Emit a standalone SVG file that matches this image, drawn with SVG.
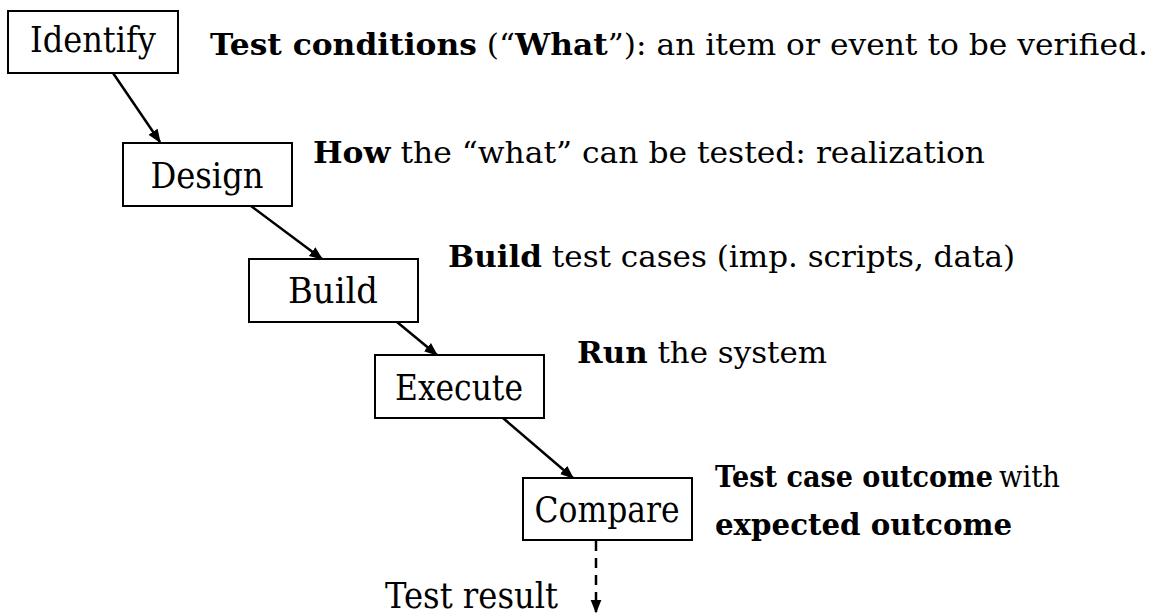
<svg xmlns="http://www.w3.org/2000/svg" width="1155" height="614" viewBox="0 0 1155 614">
<style>
.box{fill:#fff;stroke:#000;stroke-width:2}
text{font-family:"DejaVu Serif","Liberation Serif",serif;fill:#000}
.lbl{font-size:35px;text-anchor:middle}
.desc{font-size:30px}
.b{font-weight:bold}
.conn{stroke:#000;stroke-width:2.5;fill:none}
.dash{stroke-dasharray:10,7}
</style>
<defs>
<marker id="ah" viewBox="0 0 10 10" refX="9" refY="5" markerWidth="5.5" markerHeight="5.5" markerUnits="strokeWidth" orient="auto">
<path d="M0,1 L10,5 L0,9 z" fill="#000"/>
</marker>
</defs>
<rect width="1155" height="614" fill="#fff"/>
<g id="connectors">
<line class="conn" x1="113" y1="73" x2="160" y2="142" marker-end="url(#ah)"/>
<line class="conn" x1="251" y1="206" x2="322" y2="259" marker-end="url(#ah)"/>
<line class="conn" x1="397" y1="322" x2="437" y2="355" marker-end="url(#ah)"/>
<line class="conn" x1="503" y1="418" x2="573" y2="478" marker-end="url(#ah)"/>
<line class="conn dash" x1="596" y1="541" x2="596" y2="612" marker-end="url(#ah)"/>
</g>
<g id="identify">
<rect class="box" x="8" y="11" width="170" height="62"/>
<text class="lbl" x="93" y="52" textLength="126" lengthAdjust="spacingAndGlyphs">Identify</text>
</g>
<g id="design">
<rect class="box" x="123" y="143" width="169" height="63"/>
<text class="lbl" x="207" y="188" textLength="113" lengthAdjust="spacingAndGlyphs">Design</text>
</g>
<g id="build">
<rect class="box" x="249" y="259" width="169" height="63"/>
<text class="lbl" x="333" y="303" textLength="90" lengthAdjust="spacingAndGlyphs">Build</text>
</g>
<g id="execute">
<rect class="box" x="375" y="355" width="169" height="63"/>
<text class="lbl" x="459" y="400" textLength="128" lengthAdjust="spacingAndGlyphs">Execute</text>
</g>
<g id="compare">
<rect class="box" x="523" y="478" width="169" height="62"/>
<text class="lbl" x="607" y="522" textLength="145" lengthAdjust="spacingAndGlyphs">Compare</text>
</g>
<g id="texts">
<text class="desc" x="210" y="55" textLength="938" lengthAdjust="spacingAndGlyphs"><tspan class="b">Test conditions</tspan> (“<tspan class="b">What</tspan>”): an item or event to be verified.</text>
<text class="desc" x="313" y="163" textLength="672" lengthAdjust="spacingAndGlyphs"><tspan class="b">How</tspan> the “what” can be tested: realization</text>
<text class="desc" x="448" y="267" textLength="567" lengthAdjust="spacingAndGlyphs"><tspan class="b">Build</tspan> test cases (imp. scripts, data)</text>
<text class="desc" x="577" y="363" textLength="250" lengthAdjust="spacingAndGlyphs"><tspan class="b">Run</tspan> the system</text>
<text class="desc b" x="715" y="487" textLength="278" lengthAdjust="spacingAndGlyphs">Test case outcome</text>
<text class="desc" x="999" y="487" textLength="61" lengthAdjust="spacingAndGlyphs">with</text>
<text class="desc b" x="715" y="535" textLength="297" lengthAdjust="spacingAndGlyphs">expected outcome</text>
<text class="lbl" x="385" y="608" style="text-anchor:start" textLength="173" lengthAdjust="spacingAndGlyphs">Test result</text>
</g>
</svg>
